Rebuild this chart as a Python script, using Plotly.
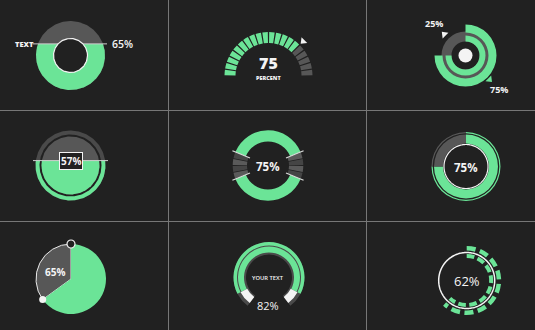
import numpy as np
import plotly.graph_objects as go

# ---------------- data ----------------
fill_donut_value = 65          # cell 1: liquid-filled donut
fill_donut_text = "TEXT"
gauge_value = 75               # cell 2: segmented gauge
gauge_segments = 20
gauge_text = "PERCENT"
ring_values = [75, 25]         # cell 3: green ring / grey remainder
level_value = 57               # cell 4: liquid level circle
split_value = 75               # cell 5: ring with grey side blocks
split_blocks = 4
donut_value = 75               # cell 6: donut
pie_value = 65                 # cell 7: pie
arc_value = 82                 # cell 8: open arc gauge
arc_text = "YOUR TEXT"
dash_value = 62                # cell 9: dashed rings

# ---------------- style ----------------
W, H = 535, 330
BG = "#212121"
GREEN = "#6be497"
GRAY = "#575757"
GRAY2 = "#4a4a4a"
WHITE = "#f4f4f4"
GRID = "#777777"
FONT = "Open Sans"
col_lines = [168.5, 366.5]
row_lines = [110.5, 221.5]

fig = go.Figure()


def circle_xy(cx, cy, r, n=240):
    t = np.linspace(0, 2 * np.pi, n)
    return cx + r * np.cos(t), cy + r * np.sin(t)


def below_xy(cx, cy, r, ylev, n=240):
    d = np.clip((ylev - cy) / r, -1, 1)
    a = np.arcsin(d)
    t = np.linspace(a, np.pi - a, n)
    return cx + r * np.cos(t), cy + r * np.sin(t)


def poly(xy, fill, lc=None, lw=0):
    fig.add_trace(go.Scatter(x=xy[0], y=xy[1], mode="lines", fill="toself", fillcolor=fill,
                             line=dict(color=lc or fill, width=lw), hoverinfo="skip",
                             showlegend=False))


def hline(x0, x1, y, color="#d0d0d0", w=1):
    fig.add_trace(go.Scatter(x=[x0, x1], y=[y, y], mode="lines", line=dict(color=color, width=w),
                             hoverinfo="skip", showlegend=False))


def cap_area(R, d):
    if d >= R:
        return 0.0
    if d <= -R:
        return np.pi * R * R
    return R * R * np.arccos(d / R) - d * np.sqrt(R * R - d * d)


annotations = []


def text(x, y, s, size, weight=700, color=WHITE, **kw):
    annotations.append(dict(x=x, y=y, xref="x", yref="y", text=s, showarrow=False,
                            font=dict(family=FONT, size=size, color=color, weight=weight), **kw))


# ---------- cell 1: liquid filled donut ----------
cx, cy, R, r = 70.5, 55.5, 34.5, 17
v = fill_donut_value / 100
lo, hi = -R, R
for _ in range(60):
    mid = (lo + hi) / 2
    frac = (cap_area(R, mid) - cap_area(r, mid)) / (np.pi * (R * R - r * r))
    if frac > v:
        lo = mid
    else:
        hi = mid
lev1 = cy + (lo + hi) / 2
poly(circle_xy(cx, cy, R), GRAY)
poly(below_xy(cx, cy, R, lev1), GREEN)
hline(cx - R - 3.5, cx + R + 2, lev1)
poly(circle_xy(cx, cy, r), BG, WHITE, 1.2)
text(24, lev1, fill_donut_text, 7.5, 800)
text(109.5, lev1, f"{fill_donut_value}%", 10.5, 600, xanchor="left")

# ---------- cell 4: liquid level ----------
cx, cy = 70.5, 165.5
Ro, Rm, Ri = 35, 31, 29
lev4 = cy + Ro - 2 * Ro * level_value / 100
poly(circle_xy(cx, cy, Ro), GRAY2)
poly(below_xy(cx, cy, Ro, lev4), GREEN)
poly(circle_xy(cx, cy, Rm), BG)
poly(circle_xy(cx, cy, Ri), GRAY)
poly(below_xy(cx, cy, Ri, lev4), GREEN)
hline(cx - 37.5, cx + 37.5, lev4)
text(cx, lev4, f"<b>{level_value}%</b>", 10, 700, bgcolor=BG, bordercolor=WHITE,
     borderwidth=1, borderpad=1)

# ---------------- polar helpers ----------------
polars = {}


def polar_at(name, cx, cy):
    s = min(50, cx, W - cx, cy, H - cy)
    polars[name] = dict(
        domain=dict(x=[(cx - s) / W, (cx + s) / W], y=[1 - (cy + s) / H, 1 - (cy - s) / H]),
        bgcolor="rgba(0,0,0,0)",
        radialaxis=dict(visible=False, range=[0, s]),
        angularaxis=dict(visible=False, rotation=90, direction="clockwise"),
    )


def bars(sub, r0, r1, th0, th1, colors, lc=None, lw=0):
    th0 = list(np.atleast_1d(th0))
    th1 = list(np.atleast_1d(th1))
    n = len(th0)
    if isinstance(colors, str):
        colors = [colors] * n
    fig.add_trace(go.Barpolar(
        subplot=sub, base=[r0] * n, r=[r1 - r0] * n,
        theta=[(a + b) / 2 for a, b in zip(th0, th1)],
        width=[b - a for a, b in zip(th0, th1)],
        marker=dict(color=colors, line=dict(color=lc or "rgba(0,0,0,0)", width=lw)),
        hoverinfo="skip", showlegend=False))


def ring_line(sub, rr, color, w, th0=0, th1=360):
    th = np.linspace(th0, th1, 181)
    fig.add_trace(go.Scatterpolar(subplot=sub, r=[rr] * len(th), theta=th, mode="lines",
                                  line=dict(color=color, width=w), hoverinfo="skip",
                                  showlegend=False))


def pmark(sub, rr, th, symbol, size, color, angle=0, lc=None, lw=0):
    fig.add_trace(go.Scatterpolar(subplot=sub, r=[rr], theta=[th], mode="markers",
                                  marker=dict(symbol=symbol, size=size, color=color, angle=angle,
                                              line=dict(color=lc or color, width=lw)),
                                  hoverinfo="skip", showlegend=False))


def pos(cx, cy, rr, th):
    t = np.deg2rad(th)
    return cx + rr * np.sin(t), cy - rr * np.cos(t)


# ---------- cell 2: segmented gauge ----------
cx, cy = 268.5, 76
polar_at("polar", cx, cy)
step = 180 / gauge_segments
n_on = round(gauge_segments * gauge_value / 100)
starts = [-90 + i * step + 0.9 for i in range(gauge_segments)]
ends = [-90 + (i + 1) * step - 0.9 for i in range(gauge_segments)]
cols = [GREEN if i < n_on else GRAY for i in range(gauge_segments)]
bars("polar", 33, 44, starts, ends, cols)
pth = -90 + 180 * gauge_value / 100
pmark("polar", 49, pth, "triangle-up", 7, WHITE, angle=pth + 180)
text(cx, 63, str(gauge_value), 16, 800)
text(cx, 77.5, gauge_text, 5.5, 800)

# ---------- cell 3: double ring ----------
cx, cy = 465.5, 55.5
polar_at("polar2", cx, cy)
g = 360 * ring_values[0] / 100
bars("polar2", 14, 24, [0], [360], GRAY)
bars("polar2", 23, 31, [0], [g], GREEN)
bars("polar2", 14, 20, [0], [g], GREEN)
pmark("polar2", 0, 0, "circle", 14, WHITE)
mid_gray = g + (360 - g) / 2
mid_green = g / 2
pmark("polar2", 30, mid_gray, "triangle-up", 7, WHITE, angle=mid_gray)
pmark("polar2", 34, mid_green, "triangle-up", 7, GREEN, angle=mid_green)
x, y = pos(cx, cy, 45, mid_gray)
text(x, y, f"{ring_values[1]}%", 9, 700)
x, y = pos(cx, cy, 48, mid_green)
text(x, y, f"{ring_values[0]}%", 9, 700)

# ---------- cell 5: ring with grey blocks ----------
cx, cy = 268, 165.5
polar_at("polar3", cx, cy)
gray_span = 360 * (100 - split_value) / 100 / 2
half = gray_span / 2
bars("polar3", 24, 35.3, [90 + half, 270 + half], [270 - half, 450 - half], GREEN)
blk = gray_span / split_blocks
b0, b1, bc = [], [], []
for side in (90, 270):
    for i in range(split_blocks):
        a = side - half + i * blk
        b0.append(a + 0.8)
        b1.append(a + blk - 0.8)
        bc.append("#5a5a5a" if i % 2 == 0 else "#454545")
bars("polar3", 21, 35.3, b0, b1, bc)
rr, tt = [], []
for a in (90 - half, 90 + half, 270 - half, 270 + half):
    rr += [19.5, 38.5, None]
    tt += [a, a, None]
fig.add_trace(go.Scatterpolar(subplot="polar3", r=rr, theta=tt, mode="lines",
                              line=dict(color="#dcdcdc", width=1.2), hoverinfo="skip",
                              showlegend=False))
text(cx, cy + 0.5, f"{split_value}%", 11.5, 700)

# ---------- cell 6: donut ----------
cx, cy = 466, 166.5
polar_at("polar4", cx, cy)
g = 360 * donut_value / 100
bars("polar4", 23, 32, [0, g], [g, 360], [GREEN, GRAY])
bars("polar4", 33.3, 34.5, [0, g], [g, 360], [GREEN, GRAY])
ring_line("polar4", 22, WHITE, 1.2)
text(cx, cy + 0.5, f"{donut_value}%", 11.5, 700)

# ---------- cell 7: pie ----------
cx, cy = 71, 279
polar_at("polar5", cx, cy)
g = 360 * pie_value / 100
bars("polar5", 0, 35, [g], [360], GRAY, lc="#e8e8e8", lw=1)
bars("polar5", 0, 35, [0], [g], GREEN)
pmark("polar5", 35, 0, "circle", 8, BG, lc=WHITE, lw=1.2)
pmark("polar5", 35, g, "circle", 7, WHITE)
text(55, 272, f"{pie_value}%", 10, 700)

# ---------- cell 8: open arc ----------
cx, cy = 269, 277.5
polar_at("polar6", cx, cy)
span = 286
a0, a1 = -span / 2, span / 2
gw = span * arc_value / 100
g0, g1 = -gw / 2, gw / 2
bars("polar6", 23, 35.5, [a0], [a1], GRAY2)
bars("polar6", 32, 35.5, [g0], [g1], GREEN)
bars("polar6", 25, 31, [g0], [g1], GREEN)
bars("polar6", 24.5, 32, [a0, g1], [g0, a1], WHITE)
text(cx - 1, 278, arc_text, 5.8, 600)
text(cx - 1, 305.5, f"{arc_value}%", 11, 500)

# ---------- cell 9: dashed rings ----------
cx, cy = 466.7, 280.5
polar_at("polar7", cx, cy)
end = 360 * dash_value / 100
o0 = list(np.arange(0, end, 24))
o1 = [min(a + 16, end) for a in o0]
bars("polar7", 30, 34.5, o0, o1, GREEN)
i0 = list(np.arange(0, end, 26))
i1 = [min(a + 18, end) for a in i0]
bars("polar7", 22.5, 26.5, i0, i1, GREEN)
ring_line("polar7", 28, WHITE, 1.5)
text(cx, cy, f"{dash_value}%", 13, 400)

# ---------------- layout ----------------
shapes = []
for x in col_lines:
    shapes.append(dict(type="line", xref="x", yref="y", x0=x, x1=x, y0=0, y1=H,
                       line=dict(color=GRID, width=1), layer="below"))
for y in row_lines:
    shapes.append(dict(type="line", xref="x", yref="y", x0=0, x1=W, y0=y, y1=y,
                       line=dict(color=GRID, width=1), layer="below"))

fig.update_layout(
    width=W, height=H, margin=dict(l=0, r=0, t=0, b=0),
    paper_bgcolor=BG, plot_bgcolor=BG, showlegend=False,
    xaxis=dict(range=[0, W], visible=False, fixedrange=True),
    yaxis=dict(range=[H, 0], visible=False, fixedrange=True),
    shapes=shapes, annotations=annotations,
    **polars,
)

fig.write_html("out.html")
